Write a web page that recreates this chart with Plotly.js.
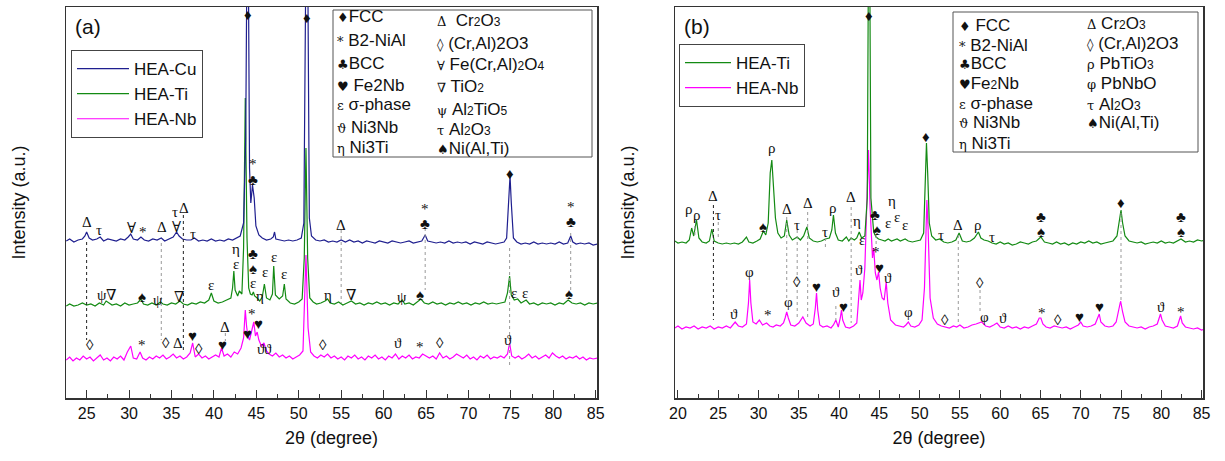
<!DOCTYPE html>
<html><head><meta charset="utf-8">
<script src="https://cdn.plot.ly/plotly-3.0.1.min.js"></script>
<style>html,body{margin:0;padding:0;background:#fff}</style>
</head><body>
<div id="chart" style="width:1225px;height:461px"></div>
<script>
// ---------- DATA (2θ, intensity in arbitrary units; traces offset vertically as in the figure) ----------
const hea_Cu_a = [[22.6,157],[23.0,159],[23.5,156],[24.0,158],[24.5,159],[24.8,162],[25.0,166],[25.3,160],[25.7,158],[26.2,159],[26.6,161],[27.0,157],[27.5,159],[28.0,158],[28.5,157],[29.0,159],[29.5,158],[29.9,161],[30.2,164],[30.5,159],[31.0,158],[31.4,161],[31.8,158],[32.3,157],[32.8,159],[33.3,158],[33.8,160],[34.2,157],[34.7,159],[35.2,161],[35.6,166],[35.9,162],[36.3,159],[36.8,158],[37.3,158],[37.7,160],[38.2,157],[38.7,158],[39.2,157],[39.7,159],[40.2,157],[40.7,158],[41.2,157],[41.7,159],[42.2,158],[42.7,160],[43.1,162],[43.5,175],[43.75,260],[43.9,450],[44.05,450],[44.2,230],[44.35,195],[44.55,213],[44.75,200],[44.95,172],[45.3,163],[45.7,160],[46.2,158],[46.7,159],[47.0,161],[47.15,166],[47.3,159],[47.8,158],[48.3,157],[48.8,158],[49.3,157],[49.8,158],[50.3,160],[50.6,175],[50.85,450],[51.05,450],[51.25,180],[51.5,162],[52.0,158],[52.5,157],[53.0,158],[53.5,156],[54.0,157],[54.5,156],[55.0,158],[55.5,156],[56.0,158],[56.5,156],[57.0,157],[57.5,155],[58.0,157],[58.5,156],[59.0,155],[59.5,157],[60.0,156],[60.5,155],[61.0,157],[61.5,156],[62.0,155],[62.5,156],[63.0,157],[63.5,155],[64.0,156],[64.5,157],[64.9,163],[65.2,157],[65.7,156],[66.2,155],[66.7,156],[67.2,155],[67.7,157],[68.2,155],[68.7,156],[69.2,155],[69.7,156],[70.2,154],[70.7,156],[71.2,155],[71.7,154],[72.2,156],[72.7,155],[73.2,154],[73.7,155],[74.2,156],[74.5,160],[74.75,200],[74.9,222],[75.05,195],[75.3,160],[75.7,156],[76.2,154],[76.7,155],[77.2,154],[77.7,156],[78.2,154],[78.7,155],[79.2,154],[79.7,155],[80.2,154],[80.7,156],[81.2,154],[81.7,155],[82.05,162],[82.3,156],[82.7,154],[83.2,155],[83.7,154],[84.2,155],[84.7,153],[85.2,154]];

const hea_Ti_a = [[22.6,92],[23.0,94],[23.5,92],[24.0,93],[24.5,95],[25.0,93],[25.5,94],[26.0,92],[26.5,95],[27.0,93],[27.3,97],[27.6,95],[28.0,93],[28.5,94],[29.0,92],[29.5,95],[30.0,93],[30.5,94],[31.0,95],[31.4,99],[31.7,94],[32.2,93],[32.7,95],[33.2,93],[33.7,96],[34.0,94],[34.5,93],[35.0,95],[35.5,94],[36.0,97],[36.4,94],[36.9,93],[37.4,95],[37.9,94],[38.4,96],[38.9,95],[39.4,98],[39.7,105],[40.0,97],[40.5,95],[41.0,96],[41.5,98],[42.0,100],[42.2,110],[42.35,127],[42.5,108],[42.8,102],[43.0,107],[43.3,104],[43.5,150],[43.7,300],[43.9,160],[44.1,110],[44.3,104],[44.5,103],[44.65,106],[44.8,102],[45.1,100],[45.4,97],[45.7,101],[45.95,114],[46.2,100],[46.6,98],[46.9,104],[47.05,132],[47.25,103],[47.7,99],[48.1,102],[48.3,114],[48.5,99],[49.0,95],[49.5,94],[50.0,96],[50.4,99],[50.65,140],[50.85,250],[51.05,140],[51.3,100],[51.7,96],[52.1,94],[52.6,95],[53.1,97],[53.4,99],[53.7,95],[54.2,94],[54.7,96],[55.2,93],[55.7,95],[56.2,97],[56.7,94],[57.2,95],[57.7,93],[58.2,95],[58.7,94],[59.2,96],[59.7,94],[60.2,95],[60.7,93],[61.2,95],[61.7,94],[62.2,98],[62.5,94],[63.0,95],[63.5,93],[64.0,96],[64.4,99],[64.8,95],[65.3,94],[65.8,96],[66.3,94],[66.8,95],[67.3,93],[67.8,95],[68.3,94],[68.8,96],[69.3,94],[69.8,95],[70.3,93],[70.8,95],[71.3,94],[71.8,96],[72.3,94],[72.8,95],[73.3,94],[73.8,95],[74.3,96],[74.6,105],[74.85,122],[75.05,103],[75.4,98],[75.8,99],[76.2,95],[76.8,98],[77.2,94],[77.7,95],[78.2,93],[78.7,95],[79.2,94],[79.7,95],[80.2,93],[80.7,95],[81.2,94],[81.75,98],[82.2,95],[82.7,94],[83.2,95],[83.7,93],[84.2,95],[84.7,94],[85.2,95]];

const hea_Nb_a = [[22.6,38],[23.0,41],[23.4,37],[23.8,40],[24.2,38],[24.6,42],[25.0,39],[25.4,41],[25.8,37],[26.2,40],[26.6,43],[27.0,38],[27.4,40],[27.8,37],[28.2,41],[28.6,39],[29.0,42],[29.4,38],[29.8,46],[30.2,52],[30.5,40],[30.9,39],[31.3,46],[31.6,40],[32.0,38],[32.4,41],[32.8,39],[33.2,42],[33.6,40],[34.0,43],[34.4,39],[34.8,41],[35.2,44],[35.6,40],[36.0,42],[36.4,39],[36.8,41],[37.2,45],[37.5,55],[37.8,41],[38.2,44],[38.6,40],[39.0,42],[39.4,39],[39.8,41],[40.2,43],[40.6,41],[40.9,50],[41.2,42],[41.6,44],[42.0,41],[42.4,46],[42.8,44],[43.2,50],[43.5,60],[43.7,88],[43.85,72],[44.0,62],[44.2,58],[44.5,68],[44.7,76],[44.9,62],[45.1,66],[45.3,58],[45.6,52],[45.9,55],[46.2,47],[46.5,44],[46.9,42],[47.3,45],[47.7,41],[48.1,43],[48.5,40],[48.9,42],[49.3,39],[49.7,41],[50.1,43],[50.5,47],[50.85,143],[51.1,70],[51.4,46],[51.8,42],[52.2,40],[52.6,43],[53.0,41],[53.4,44],[53.8,40],[54.2,42],[54.6,39],[55.0,41],[55.4,38],[55.8,42],[56.2,40],[56.6,43],[57.0,39],[57.4,41],[57.8,38],[58.2,42],[58.6,40],[59.0,43],[59.4,39],[59.8,41],[60.2,38],[60.6,42],[61.0,40],[61.4,44],[61.8,39],[62.2,42],[62.6,40],[63.0,43],[63.4,39],[63.8,41],[64.2,40],[64.6,44],[65.0,42],[65.4,40],[65.8,42],[66.2,39],[66.6,45],[67.0,40],[67.4,42],[67.8,39],[68.2,41],[68.6,44],[69.0,42],[69.4,40],[69.8,43],[70.2,39],[70.6,41],[71.0,38],[71.4,42],[71.8,40],[72.2,43],[72.6,39],[73.0,41],[73.4,40],[73.8,42],[74.2,40],[74.6,44],[74.85,55],[75.1,42],[75.5,40],[75.9,42],[76.3,39],[76.7,41],[77.1,44],[77.5,40],[77.9,42],[78.3,39],[78.7,41],[79.1,43],[79.5,40],[79.9,45],[80.3,42],[80.7,40],[81.1,42],[81.5,39],[81.9,41],[82.3,40],[82.7,42],[83.1,39],[83.5,41],[83.9,38],[84.3,40],[84.7,39],[85.2,40]];

const hea_Ti_b = [[19.6,157],[20.0,155],[20.5,156],[21.0,155],[21.4,158],[21.7,170],[21.95,162],[22.3,178],[22.6,160],[23.0,156],[23.5,155],[23.9,157],[24.2,169],[24.5,157],[25.0,155],[25.5,154],[26.0,155],[26.5,154],[27.0,155],[27.5,154],[28.0,156],[28.5,161],[28.8,156],[29.3,155],[29.8,157],[30.2,159],[30.6,167],[30.9,163],[31.2,175],[31.45,225],[31.65,238],[31.85,215],[32.1,180],[32.4,165],[32.8,160],[33.2,162],[33.5,178],[33.8,163],[34.2,158],[34.8,161],[35.2,158],[35.6,162],[36.0,171],[36.3,160],[36.8,157],[37.3,156],[37.8,157],[38.3,159],[38.8,160],[39.1,168],[39.3,183],[39.55,165],[39.9,158],[40.4,157],[40.9,161],[41.2,157],[41.5,160],[41.9,158],[42.2,160],[42.5,166],[42.8,160],[43.2,162],[43.5,200],[43.65,450],[43.8,450],[43.95,200],[44.3,166],[44.6,161],[44.9,159],[45.3,158],[45.7,157],[46.1,159],[46.5,157],[47.2,159],[47.6,157],[48.2,159],[48.6,157],[49.1,156],[49.6,157],[50.1,158],[50.5,165],[50.7,220],[50.85,255],[51.0,225],[51.2,175],[51.5,162],[52.0,158],[52.5,159],[53.0,156],[53.5,155],[54.0,156],[54.5,158],[54.9,165],[55.3,157],[55.8,156],[56.3,157],[56.8,160],[57.3,166],[57.6,160],[58.0,158],[58.5,157],[59.0,155],[59.5,154],[60.0,156],[60.5,154],[61.0,155],[61.5,153],[62.0,154],[62.5,156],[63.0,155],[63.5,154],[64.0,156],[64.5,157],[65.05,161],[65.5,156],[66.0,155],[66.5,154],[67.0,156],[67.5,154],[68.0,155],[68.5,153],[69.0,155],[69.5,154],[70.0,156],[70.5,155],[71.0,157],[71.5,155],[72.0,156],[72.5,154],[73.0,155],[73.5,156],[74.0,157],[74.5,162],[74.8,180],[75.0,188],[75.2,175],[75.5,162],[76.0,157],[76.5,156],[77.0,155],[77.5,156],[78.0,154],[78.5,155],[79.0,156],[79.5,155],[80.0,157],[80.5,155],[81.0,156],[81.5,155],[82.0,157],[82.45,159],[83.0,156],[83.5,157],[84.0,156],[84.5,158],[85.0,157],[85.4,158]];

const hea_Nb_b = [[19.6,70],[20.0,72],[20.5,69],[21.0,71],[21.5,70],[22.0,72],[22.5,69],[23.0,71],[23.5,70],[24.0,72],[24.5,69],[25.0,71],[25.5,70],[26.0,72],[26.5,70],[27.1,76],[27.5,72],[28.0,71],[28.5,74],[28.75,95],[28.9,118],[29.05,95],[29.3,76],[29.7,74],[30.1,78],[30.5,73],[31.0,75],[31.4,72],[31.8,71],[32.2,73],[32.7,72],[33.1,75],[33.3,80],[33.5,86],[33.7,80],[34.0,73],[34.5,72],[35.0,75],[35.5,81],[35.9,75],[36.4,72],[36.8,74],[37.05,90],[37.2,105],[37.35,88],[37.6,73],[38.0,71],[38.5,72],[39.0,70],[39.3,73],[39.6,78],[39.9,71],[40.15,80],[40.3,88],[40.45,78],[40.8,71],[41.3,70],[41.8,72],[42.2,75],[42.45,100],[42.6,118],[42.75,98],[42.95,105],[43.2,130],[43.45,200],[43.65,248],[43.85,190],[44.0,161],[44.15,140],[44.3,150],[44.5,125],[44.7,118],[44.9,126],[45.1,110],[45.35,100],[45.6,98],[45.85,116],[46.05,95],[46.4,78],[47.0,73],[47.5,72],[48.0,71],[48.3,73],[48.6,76],[48.9,72],[49.4,71],[49.9,73],[50.3,78],[50.6,110],[50.8,185],[50.9,198],[51.05,170],[51.3,100],[51.7,80],[52.2,74],[52.7,72],[53.2,71],[53.7,70],[54.2,72],[54.6,71],[55.0,73],[55.5,70],[56.0,71],[56.5,73],[57.0,74],[57.7,76],[58.2,72],[58.7,71],[59.2,73],[59.6,75],[60.0,71],[60.5,70],[61.0,72],[61.5,70],[62.0,71],[62.5,69],[63.0,71],[63.5,70],[64.0,72],[64.5,74],[64.85,80],[65.05,80],[65.3,74],[65.7,71],[66.2,70],[66.7,72],[67.2,71],[67.7,70],[68.2,71],[68.7,69],[69.2,71],[69.7,73],[70.0,76],[70.3,72],[70.8,71],[71.3,72],[71.8,74],[72.1,80],[72.3,84],[72.5,76],[73.0,72],[73.5,71],[74.0,72],[74.4,76],[74.7,88],[74.95,97],[75.2,86],[75.5,76],[76.0,72],[76.5,71],[77.0,70],[77.5,71],[78.0,69],[78.5,71],[79.0,72],[79.5,74],[79.7,80],[79.9,84],[80.1,78],[80.5,72],[81.0,71],[81.5,70],[82.0,72],[82.2,78],[82.4,82],[82.6,75],[83.0,71],[83.5,70],[84.0,69],[84.5,70],[85.0,68],[85.4,69]];

// Phase marker labels: [symbol, 2θ, intensity level]
const marksA = [
 ['♦',44.0,383],['♦',51.0,380],
 ['Δ',25.1,176],['τ',26.4,168],['∀',30.3,170],['*',31.6,166],['Δ',33.9,171],['τ',35.4,186],['∀',35.65,171],['Δ',36.5,190],['τ',37.5,164],
 ['*',44.6,234],['♣',44.6,218],['Δ',55.0,173],['*',64.9,189],['♣',64.9,174],['♦',74.85,224],['*',82.05,191],['♣',82.05,176],
 ['ψ',26.8,103],['∇',27.9,103],['♠',31.5,101],['ψ',33.45,98],['∇',35.9,101],['ε',39.7,113],['η',42.6,149],['ε',42.55,134],
 ['♣',44.65,144],['♠',44.65,129],['ε',44.65,115],['η',45.4,102],['ε',46.0,126],['ε',47.1,141],['ε',48.3,124],
 ['η',53.4,103],['∇',56.2,103],['ψ',62.2,101],['♠',64.3,103],['ε',75.4,105],['ε',76.7,105],['♠',81.8,104],
 ['◊',25.4,53],['*',31.5,53],['◊',34.4,55],['Δ',35.8,55],['♥',37.5,62],['◊',38.2,49],['Δ',41.35,71],['♥',41.0,53],
 ['♥',44.0,64],['*',44.5,84],['♥',45.25,74],['ϑ',45.5,49],['ϑ',46.4,49],['◊',52.8,53],['ϑ',61.75,55],['*',64.3,51],['◊',66.6,55],['ϑ',74.7,58]
];
const marksB = [
 ['♦',43.7,382],['♦',50.85,261],
 ['ρ',21.4,189],['ρ',22.3,183],['Δ',24.4,202],['τ',25.0,183],['♠',30.6,171],['ρ',31.7,250],['Δ',33.5,189],['τ',34.8,173],['Δ',36.1,195],
 ['τ',38.3,166],['ρ',39.3,190],['Δ',41.5,201],['η',42.2,177],['ε',42.8,158],['♣',44.5,183],['♠',44.7,168],['ε',46.1,175],['η',46.55,197],
 ['ε',47.2,181],['ε',48.2,173],['τ',52.6,163],['Δ',54.8,173],['ρ',57.3,173],['τ',59.0,161],['♣',65.05,181],['♠',65.05,166],['♦',75.0,195],
 ['♣',82.45,181],['♠',82.45,166],
 ['ϑ',27.0,84],['φ',28.9,126],['*',31.2,83],['φ',33.7,96],['◊',34.8,116],['♥',37.2,111],['ϑ',39.6,106],['♥',40.5,91],['ϑ',42.5,128],
 ['*',44.55,146],['♥',45.05,130],['ϑ',46.1,120],['φ',48.6,86],['◊',53.2,78],['◊',57.5,115],['φ',58.1,81],['ϑ',60.4,80],['*',65.2,85],
 ['◊',67.2,78],['♥',69.9,81],['♥',72.3,91],['ϑ',80.0,91],['*',82.4,86]
];
// Dotted guide lines: [2θ, from level, to level, dark?]
const guidesA = [[25.0,156,58,1],[33.8,155,58,0],[36.4,183,46,1],[55.0,168,95,0],[64.9,170,108,0],[74.85,150,33,0],[82.05,165,108,0],[41.35,65,57,0]];
const guidesB = [[24.4,193,78,1],[22.1,178,161,0],[25.0,176,158,0],[33.5,181,98,0],[34.8,168,78,0],[36.1,186,78,0],[38.3,160,148,0],[39.6,92,78,0],[41.5,191,75,0],[44.6,163,150,0],[54.8,163,73,0],[57.5,108,85,0],[75.0,185,96,0]];

// Key box texts
const sm = t => '<span style="font-size:12px">'+t+'</span>';
const sy = t => '<span style="font-family:DejaVu Serif;font-size:13px">'+t+'</span>';
const keyA1 = [sy('♦')+'FCC', sy('*')+' B2-NiAl', sy('♣')+'BCC', sy('♥')+' Fe2Nb', sy('ε')+' σ-phase', sy('ϑ')+' Ni3Nb', sy('η')+' Ni3Ti'];
const keyA2 = [sy('Δ')+'  Cr'+sm('2')+'O'+sm('3'), sy('◊')+' (Cr,Al)2O3', sy('∀')+' Fe(Cr,Al)'+sm('2')+'O'+sm('4'), sy('∇')+' TiO'+sm('2'), sy('ψ')+' Al'+sm('2')+'TiO'+sm('5'), sy('τ')+' Al'+sm('2')+'O'+sm('3'), sy('♠')+'Ni(Al,Ti)'];
const keyB1 = [sy('♦')+' FCC', sy('*')+' B2-NiAl', sy('♣')+'BCC', sy('♥')+'Fe'+sm('2')+'Nb', sy('ε')+' σ-phase', sy('ϑ')+' Ni3Nb', sy('η')+' Ni3Ti'];
const keyB2 = [sy('Δ')+' Cr'+sm('2')+'O'+sm('3'), sy('◊')+' (Cr,Al)2O3', sy('ρ')+' PbTiO'+sm('3'), sy('φ')+' PbNbO', sy('τ')+' Al'+sm('2')+'O'+sm('3'), sy('♠')+'Ni(Al,Ti)'];

// ---------- LAYOUT HELPERS (pixel placement of decorations) ----------
const W = 1225, H = 461;
const PX = p => p / W, PY = p => 1 - p / H;
const sans = 'Liberation Sans, Arial, sans-serif';
const serif = 'Liberation Serif, DejaVu Serif, serif';
const C_CU = '#1f1f8f', C_TI = '#138a13', C_NB = '#ff00ff';

const traces = [
 {name:'HEA-Nb', x:hea_Nb_a.map(p=>p[0]), y:hea_Nb_a.map(p=>p[1]), xaxis:'x', yaxis:'y', legend:'legend', legendrank:3, line:{color:C_NB,width:1.2}},
 {name:'HEA-Ti', x:hea_Ti_a.map(p=>p[0]), y:hea_Ti_a.map(p=>p[1]), xaxis:'x', yaxis:'y', legend:'legend', legendrank:2, line:{color:C_TI,width:1.2}},
 {name:'HEA-Cu', x:hea_Cu_a.map(p=>p[0]), y:hea_Cu_a.map(p=>p[1]), xaxis:'x', yaxis:'y', legend:'legend', legendrank:1, line:{color:C_CU,width:1.2}},
 {name:'HEA-Nb', x:hea_Nb_b.map(p=>p[0]), y:hea_Nb_b.map(p=>p[1]), xaxis:'x2', yaxis:'y2', legend:'legend2', legendrank:2, line:{color:C_NB,width:1.2}},
 {name:'HEA-Ti', x:hea_Ti_b.map(p=>p[0]), y:hea_Ti_b.map(p=>p[1]), xaxis:'x2', yaxis:'y2', legend:'legend2', legendrank:1, line:{color:C_TI,width:1.2}}
].map(t => Object.assign({type:'scatter', mode:'lines', hoverinfo:'skip'}, t));

const annotations = [];
marksA.forEach(m => annotations.push({text:m[0], x:m[1], y:m[2], xref:'x', yref:'y', xanchor:'center', yanchor:'middle', showarrow:false, font:{family:serif, size:15, color:'#111'}}));
marksB.forEach(m => annotations.push({text:m[0], x:m[1], y:m[2], xref:'x2', yref:'y2', xanchor:'center', yanchor:'middle', showarrow:false, font:{family:serif, size:15, color:'#111'}}));

function keyCol(list, xpx, rows) {
  list.forEach((t, i) => annotations.push({text:t, x:PX(xpx), y:PY(rows[i]), xref:'paper', yref:'paper', xanchor:'left', yanchor:'middle', showarrow:false, font:{family:sans, size:17, color:'#111'}}));
}
keyCol(keyA1, 335, [16,41,63,85,104,127,147]);
keyCol(keyA2, 435, [20,43,65,87,110,129,148]);
keyCol(keyB1, 957, [25,45,64,84,103,123,143]);
keyCol(keyB2, 1085, [24,44,64,84,104,123]);
annotations.push({text:'(a)', x:PX(88), y:PY(27), xref:'paper', yref:'paper', xanchor:'center', yanchor:'middle', showarrow:false, font:{family:sans, size:21, color:'#111'}});
annotations.push({text:'(b)', x:PX(697), y:PY(27), xref:'paper', yref:'paper', xanchor:'center', yanchor:'middle', showarrow:false, font:{family:sans, size:21, color:'#111'}});

const shapes = [];
[[333,10,592,157],[953,12,1198,152]].forEach(b => shapes.push({type:'rect', xref:'paper', yref:'paper', x0:PX(b[0]), x1:PX(b[2]), y0:PY(b[3]), y1:PY(b[1]), line:{color:'#555', width:1}, fillcolor:'rgba(255,255,255,0)'}));
guidesA.forEach(g => shapes.push({type:'line', xref:'x', yref:'y', x0:g[0], x1:g[0], y0:g[1], y1:g[2], line:{color:g[3]?'#222':'#999', width:1, dash:'dot'}}));
guidesB.forEach(g => shapes.push({type:'line', xref:'x2', yref:'y2', x0:g[0], x1:g[0], y0:g[1], y1:g[2], line:{color:g[3]?'#222':'#999', width:1, dash:'dot'}}));

const xCommon = {showline:true, mirror:true, linecolor:'#333', linewidth:1.5, ticks:'inside', ticklen:8, tickcolor:'#333', dtick:5,
  minor:{ticks:'inside', ticklen:4, dtick:2.5, tickcolor:'#333'}, showgrid:false, zeroline:false,
  tickfont:{family:sans, size:16, color:'#111'}, title:{text:'2θ (degree)', font:{family:sans, size:18, color:'#111'}, standoff:10}};
const yCommon = {showline:true, mirror:true, linecolor:'#333', linewidth:1.5, ticks:'', showticklabels:false, showgrid:false, zeroline:false,
  range:[0,391], title:{text:'Intensity (a.u.)', font:{family:sans, size:18, color:'#111'}, standoff:34}};

const legendCommon = {xanchor:'left', yanchor:'top', bgcolor:'#fff', bordercolor:'#444', borderwidth:1, font:{family:sans, size:17, color:'#111'}, tracegroupgap:0, traceorder:'normal'};
const layout = {
  width:W, height:H, margin:{l:0, r:0, t:0, b:0}, paper_bgcolor:'#fff', plot_bgcolor:'#fff',
  xaxis:Object.assign({}, xCommon, {domain:[PX(66), PX(597)], range:[22.57,85.15], tick0:25, minor:Object.assign({}, xCommon.minor, {tick0:25})}),
  yaxis:Object.assign({}, yCommon, {domain:[PY(398), PY(7)], anchor:'x'}),
  xaxis2:Object.assign({}, xCommon, {domain:[PX(675), PX(1203)], range:[19.63,85.18], tick0:20, anchor:'y2', minor:Object.assign({}, xCommon.minor, {tick0:20})}),
  yaxis2:Object.assign({}, yCommon, {domain:[PY(398), PY(7)], anchor:'x2'}),
  showlegend:true,
  legend:Object.assign({}, legendCommon, {x:PX(71), y:PY(50), itemwidth:52}),
  legend2:Object.assign({}, legendCommon, {x:PX(679), y:PY(44), itemwidth:46}),
  annotations:annotations, shapes:shapes
};
Plotly.newPlot('chart', traces, layout, {displayModeBar:false, staticPlot:true});
</script></body></html>
